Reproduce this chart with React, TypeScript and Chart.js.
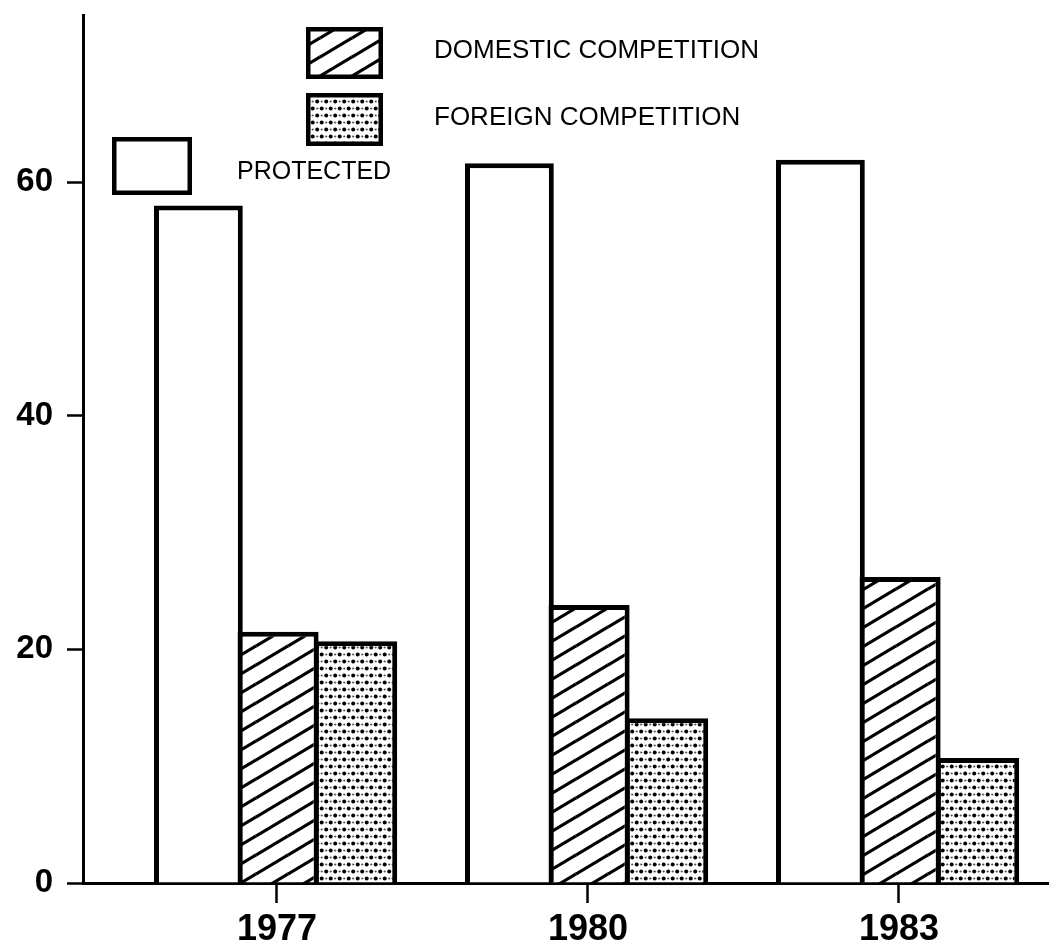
import React, { useEffect, useRef } from 'react';
import { Chart, registerables } from 'chart.js';

Chart.register(...registerables);

const years = [1977, 1980, 1983];
const protectedShare = [58, 61.6, 61.9];
const domesticShare = [21.5, 23.8, 26.2];
const foreignShare = [20.7, 14.1, 10.7];
const yTickValues = [0, 20, 40, 60];
const seriesLabels = ['PROTECTED', 'DOMESTIC COMPETITION', 'FOREIGN COMPETITION'];

const FONT = '"Liberation Sans", Arial, Helvetica, sans-serif';

function makeHatch(ctx: CanvasRenderingContext2D) {
  const W = 32, H = 19;
  const c = document.createElement('canvas');
  c.width = W; c.height = H;
  const g = c.getContext('2d')!;
  g.fillStyle = '#fff';
  g.fillRect(0, 0, W, H);
  g.strokeStyle = '#000';
  g.lineWidth = 3.2;
  for (const dx of [-W, 0, W]) {
    for (const dy of [-H, 0, H]) {
      g.beginPath();
      g.moveTo(dx, dy + H);
      g.lineTo(dx + W, dy);
      g.stroke();
    }
  }
  return ctx.createPattern(c, 'repeat')!;
}

function makeDots(ctx: CanvasRenderingContext2D) {
  const W = 9, H = 14;
  const c = document.createElement('canvas');
  c.width = W; c.height = H;
  const g = c.getContext('2d')!;
  g.fillStyle = '#fff';
  g.fillRect(0, 0, W, H);
  g.fillStyle = '#000';
  const dots = [[2.2, 3.5], [6.7, 10.5]];
  for (const [x, y] of dots) {
    g.beginPath();
    g.arc(x, y, 2.0, 0, Math.PI * 2);
    g.fill();
  }
  g.fillStyle = '#555';
  const light = [[6.7, 3.5], [2.2, 10.5]];
  for (const [x, y] of light) {
    g.beginPath();
    g.arc(x, y, 1.1, 0, Math.PI * 2);
    g.fill();
  }
  return ctx.createPattern(c, 'repeat')!;
}

const legendPlugin = {
  id: 'paperLegend',
  afterDraw(chart: any) {
    const ctx: CanvasRenderingContext2D = chart.ctx;
    const ds = chart.data.datasets;
    const items = [
      { i: 1, box: [306, 27, 77, 52], tx: 434, ty: 51, size: 26 },
      { i: 2, box: [306, 93, 77, 53], tx: 434, ty: 118, size: 26 },
      { i: 0, box: [112, 137, 80, 58], tx: 237, ty: 172, size: 25 },
    ];
    ctx.save();
    for (const it of items) {
      const [x, y, w, h] = it.box;
      ctx.fillStyle = ds[it.i].backgroundColor;
      ctx.fillRect(x, y, w, h);
      ctx.lineWidth = 4.5;
      ctx.strokeStyle = '#000';
      ctx.strokeRect(x + 2.25, y + 2.25, w - 4.5, h - 4.5);
      ctx.fillStyle = '#000';
      ctx.font = `${it.size}px ${FONT}`;
      ctx.textBaseline = 'middle';
      ctx.textAlign = 'left';
      ctx.fillText(ds[it.i].label, it.tx, it.ty);
    }
    ctx.restore();
  },
};

export default function App() {
  const canvasRef = useRef<HTMLCanvasElement | null>(null);

  useEffect(() => {
    const canvas = canvasRef.current!;
    const ctx = canvas.getContext('2d')!;
    const hatch = makeHatch(ctx);
    const dots = makeDots(ctx);
    const toPoints = (vals: number[]) => years.map((x, k) => ({ x, y: vals[k] }));
    const common = {
      borderColor: '#000',
      borderWidth: 5,
      categoryPercentage: 0.758,
      barPercentage: 1.06,
    };
    const chart = new Chart(ctx, {
      type: 'bar',
      data: {
        datasets: [
          { label: seriesLabels[0], data: toPoints(protectedShare), backgroundColor: '#fff', ...common, barPercentage: 1.13 },
          { label: seriesLabels[1], data: toPoints(domesticShare), backgroundColor: hatch, ...common },
          { label: seriesLabels[2], data: toPoints(foreignShare), backgroundColor: dots, ...common },
        ],
      } as any,
      options: {
        animation: false,
        responsive: false,
        devicePixelRatio: 1,
        layout: { padding: { top: 15, left: 0, right: 0, bottom: 0 } },
        plugins: { legend: { display: false }, tooltip: { enabled: false } },
        scales: {
          x: {
            type: 'linear',
            min: 1975.129,
            max: 1984.447,
            offset: false,
            afterBuildTicks: (s: any) => {
              s.ticks = years.map((v) => ({ value: v }));
            },
            afterFit: (s: any) => {
              s.height = 64;
              s.paddingLeft = 0;
              s.paddingRight = 0;
            },
            ticks: {
              callback: (v: any) => String(v),
              font: { family: FONT, size: 36, weight: 'bold' },
              color: '#000',
              padding: 5,
              maxRotation: 0,
              autoSkip: false,
            },
            grid: {
              drawOnChartArea: false,
              drawTicks: true,
              tickLength: 20,
              tickWidth: 2.5,
              tickColor: '#000',
              offset: false,
            },
            border: { display: true, color: '#000', width: 3 },
          },
          y: {
            type: 'linear',
            min: 0,
            max: 74.3,
            afterBuildTicks: (s: any) => {
              s.ticks = yTickValues.map((v) => ({ value: v }));
            },
            afterFit: (s: any) => {
              s.width = 83;
              s.paddingTop = 0;
              s.paddingBottom = 0;
            },
            ticks: {
              font: { family: FONT, size: 33, weight: 'bold' },
              color: '#000',
              padding: 14,
            },
            grid: {
              drawOnChartArea: false,
              drawTicks: true,
              tickLength: 16,
              tickWidth: 2.5,
              tickColor: '#000',
            },
            border: { display: true, color: '#000', width: 3 },
          },
        },
      } as any,
      plugins: [legendPlugin],
    });
    return () => chart.destroy();
  }, []);

  return (
    <div style={{ position: 'fixed', left: 0, top: 0, width: 1049, height: 947, background: '#fff' }}>
      <canvas ref={canvasRef} width={1049} height={947} style={{ display: 'block' }} />
    </div>
  );
}
